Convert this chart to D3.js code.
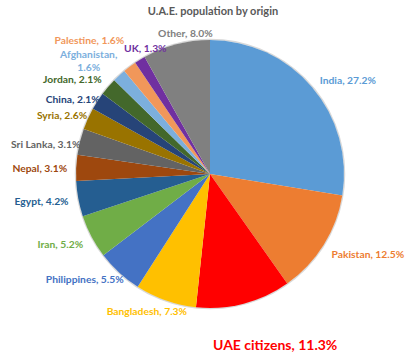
<!DOCTYPE html>
<html>
<head>
<meta charset="utf-8">
<script src="https://cdn.jsdelivr.net/npm/d3@7"></script>
<style>
  body { margin: 0; background: #fff; }
  text { font-family: Lato, "Open Sans", sans-serif; font-weight: bold; }
</style>
</head>
<body>
<div id="chart"></div>
<script>
// data, clockwise from 12 o'clock
const origins = ['India', 'Pakistan', 'UAE citizens', 'Bangladesh', 'Philippines', 'Iran', 'Egypt',
  'Nepal', 'Sri Lanka', 'Syria', 'China', 'Jordan', 'Afghanistan', 'Palestine', 'UK', 'Other'];
const shares = [27.2, 12.5, 11.3, 7.3, 5.5, 5.2, 4.2, 3.1, 3.1, 2.6, 2.1, 2.1, 1.6, 1.6, 1.3, 8.0];
const sliceColors = ['#5b9bd5', '#ed7d31', '#ff0000', '#ffc000', '#4472c4', '#70ad47', '#255e91',
  '#9e480e', '#636363', '#997300', '#264478', '#43682b', '#7cafdd', '#f1975a', '#7030a0', '#808080'];

// hand nudges for the excel "best fit" labels
const labelNudge = {
  'India': [-3, 2], 'Pakistan': [-4, 2], 'UAE citizens': [0, 0], 'Bangladesh': [26, -2],
  'Philippines': [14, -3], 'Iran': [4, 1], 'Egypt': [4, 0], 'Nepal': [5, 1], 'Sri Lanka': [14, 6],
  'Syria': [12, 2], 'China': [14, 6], 'Jordan': [4, 2], 'Afghanistan': [7, -8], 'Palestine': [3, -15],
  'UK': [34, 1], 'Other': [40, 3]
};

function createPie(element) {
  const width = 410;
  const height = 358;
  const cx = 210;
  const cy = 174;
  const radius = 134;

  const svg = d3.select(element).append('svg')
    .attr('width', width)
    .attr('height', height);

  svg.append('text')
    .attr('x', 213)
    .attr('y', 15)
    .attr('text-anchor', 'middle')
    .attr('font-size', 11)
    .attr('fill', '#595959')
    .text('U.A.E. population by origin');

  const data = origins.map((name, i) => ({ name, value: shares[i], color: sliceColors[i] }));

  const pie = d3.pie().sort(null).value(d => d.value);
  const arc = d3.arc().innerRadius(0).outerRadius(radius);
  const arcs = pie(data);

  const g = svg.append('g').attr('transform', `translate(${cx},${cy})`);

  g.append('circle')
    .attr('r', radius + 0.5)
    .attr('fill', 'none')
    .attr('stroke', '#d9d9d9')
    .attr('stroke-width', 1.5);

  g.selectAll('path')
    .data(arcs)
    .enter()
    .append('path')
    .attr('d', arc)
    .attr('fill', d => d.data.color);

  const labelR = 148;
  g.selectAll('text.lbl')
    .data(arcs)
    .enter()
    .append('text')
    .attr('class', 'lbl')
    .attr('font-size', d => (d.data.name === 'UAE citizens' ? 14 : 10.3))
    .attr('fill', d => d.data.color)
    .each(function (d) {
      const a = (d.startAngle + d.endAngle) / 2;
      let x = labelR * Math.sin(a);
      let y = -labelR * Math.cos(a);
      let anchor = x > 10 ? 'start' : (x < -10 ? 'end' : 'middle');
      const n = labelNudge[d.data.name];
      if (d.data.name === 'UAE citizens') {
        // pushed below the pie in the reference
        x = 3;
        y = radius + 37;
        anchor = 'start';
      }
      const t = d3.select(this)
        .attr('text-anchor', anchor)
        .attr('transform', `translate(${x + n[0]},${y + n[1]})`);
      const txt = `${d.data.name}, ${d.data.value.toFixed(1)}%`;
      if (d.data.name === 'Afghanistan') {
        t.attr('text-anchor', 'middle');
        t.append('tspan').attr('x', -28).attr('dy', '0.1em').text(`${d.data.name},`);
        t.append('tspan').attr('x', -28).attr('dy', '1.2em').text(`${d.data.value.toFixed(1)}%`);
      } else {
        t.attr('dy', '0.35em').text(txt);
      }
    });
}

createPie(document.getElementById('chart'));
</script>
</body>
</html>
